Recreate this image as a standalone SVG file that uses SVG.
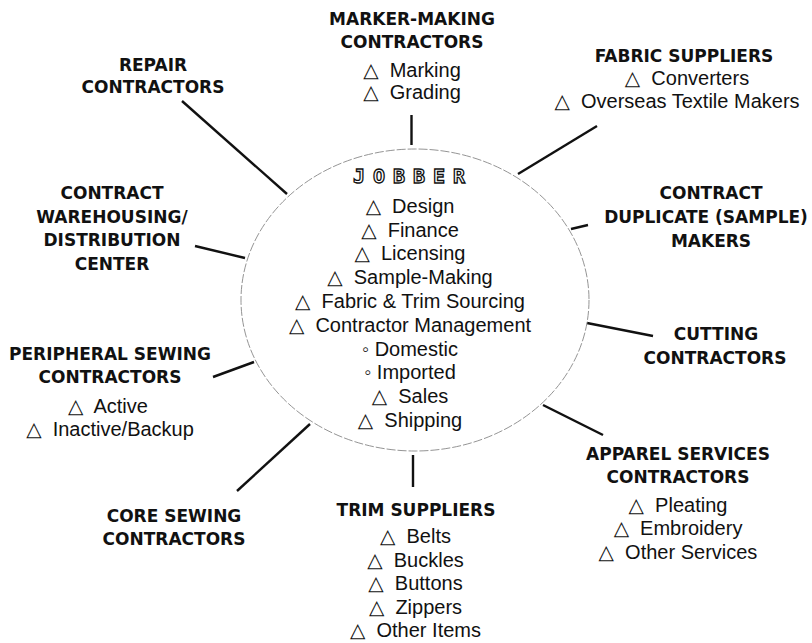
<svg xmlns="http://www.w3.org/2000/svg" width="812" height="643" viewBox="0 0 812 643">
<style>
.h{font-family:"DejaVu Sans","Liberation Sans",sans-serif;font-weight:bold;font-size:17px;fill:#111;text-anchor:middle}
.i{font-family:"Liberation Sans","DejaVu Sans",sans-serif;font-size:20px;fill:#111;text-anchor:middle}
.j{font-family:"DejaVu Sans Mono","Liberation Mono",monospace;font-weight:bold;font-size:20px;fill:#fff;stroke:#111;stroke-width:1.3;letter-spacing:8px;text-anchor:middle}
.c line{stroke:#111;stroke-width:2.4;stroke-linecap:butt}
.ring{fill:none;stroke:#888;stroke-width:0.9;stroke-dasharray:9 2}
</style>
<rect width="812" height="643" fill="#fff"/>
<g id="connectors" class="c">
<line x1="411.5" y1="115" x2="411.5" y2="145"/>
<line x1="597" y1="126" x2="518" y2="174"/>
<line x1="571" y1="229" x2="588" y2="225"/>
<line x1="587" y1="323" x2="653" y2="336"/>
<line x1="543" y1="405" x2="603" y2="435"/>
<line x1="413" y1="455" x2="413" y2="487"/>
<line x1="310" y1="424" x2="237" y2="491"/>
<line x1="213" y1="377" x2="254" y2="362"/>
<line x1="195" y1="246" x2="245" y2="258"/>
<line x1="182" y1="101" x2="287" y2="194"/>
</g>
<g id="jobber">
<ellipse class="ring" cx="415" cy="300" rx="174" ry="151"/>
<text class="j" x="413" y="183">JOBBER</text>
<text class="i" x="410" y="212.7">△&#160; Design</text>
<text class="i" x="410" y="236.5">△&#160; Finance</text>
<text class="i" x="410" y="260.3">△&#160; Licensing</text>
<text class="i" x="410" y="284.1">△&#160; Sample-Making</text>
<text class="i" x="410" y="307.9">△&#160; Fabric &amp; Trim Sourcing</text>
<text class="i" x="410" y="331.7">△&#160; Contractor Management</text>
<text class="i" x="410" y="355.5">◦ Domestic</text>
<text class="i" x="410" y="379.3">◦ Imported</text>
<text class="i" x="410" y="403.1">△&#160; Sales</text>
<text class="i" x="410" y="426.9">△&#160; Shipping</text>
</g>
<g id="marker-making">
<text class="h" x="412" y="25">MARKER-MAKING</text>
<text class="h" x="412" y="48">CONTRACTORS</text>
<text class="i" x="412" y="77">△&#160; Marking</text>
<text class="i" x="412" y="99">△&#160; Grading</text>
</g>
<g id="fabric-suppliers">
<text class="h" x="684" y="62">FABRIC SUPPLIERS</text>
<text class="i" x="687" y="85">△&#160; Converters</text>
<text class="i" x="677" y="108">△&#160; Overseas Textile Makers</text>
</g>
<g id="repair">
<text class="h" x="153" y="71">REPAIR</text>
<text class="h" x="153" y="93">CONTRACTORS</text>
</g>
<g id="warehousing">
<text class="h" x="112" y="199">CONTRACT</text>
<text class="h" x="112" y="223">WAREHOUSING/</text>
<text class="h" x="112" y="246">DISTRIBUTION</text>
<text class="h" x="112" y="270">CENTER</text>
</g>
<g id="duplicate-makers">
<text class="h" x="711" y="199">CONTRACT</text>
<text class="h" x="706" y="223">DUPLICATE (SAMPLE)</text>
<text class="h" x="711" y="247">MAKERS</text>
</g>
<g id="cutting">
<text class="h" x="716" y="340">CUTTING</text>
<text class="h" x="715" y="364">CONTRACTORS</text>
</g>
<g id="apparel-services">
<text class="h" x="678" y="460">APPAREL SERVICES</text>
<text class="h" x="678" y="483">CONTRACTORS</text>
<text class="i" x="678" y="512">△&#160; Pleating</text>
<text class="i" x="678" y="535">△&#160; Embroidery</text>
<text class="i" x="678" y="559">△&#160; Other Services</text>
</g>
<g id="trim-suppliers">
<text class="h" x="416" y="516">TRIM SUPPLIERS</text>
<text class="i" x="415.5" y="543">△&#160; Belts</text>
<text class="i" x="415.5" y="566.5">△&#160; Buckles</text>
<text class="i" x="415.5" y="590">△&#160; Buttons</text>
<text class="i" x="415.5" y="613.5">△&#160; Zippers</text>
<text class="i" x="415.5" y="637">△&#160; Other Items</text>
</g>
<g id="peripheral-sewing">
<text class="h" x="110" y="360">PERIPHERAL SEWING</text>
<text class="h" x="110" y="383">CONTRACTORS</text>
<text class="i" x="108" y="413">△&#160; Active</text>
<text class="i" x="110" y="436">△&#160; Inactive/Backup</text>
</g>
<g id="core-sewing">
<text class="h" x="174" y="522">CORE SEWING</text>
<text class="h" x="174" y="545">CONTRACTORS</text>
</g>
</svg>
